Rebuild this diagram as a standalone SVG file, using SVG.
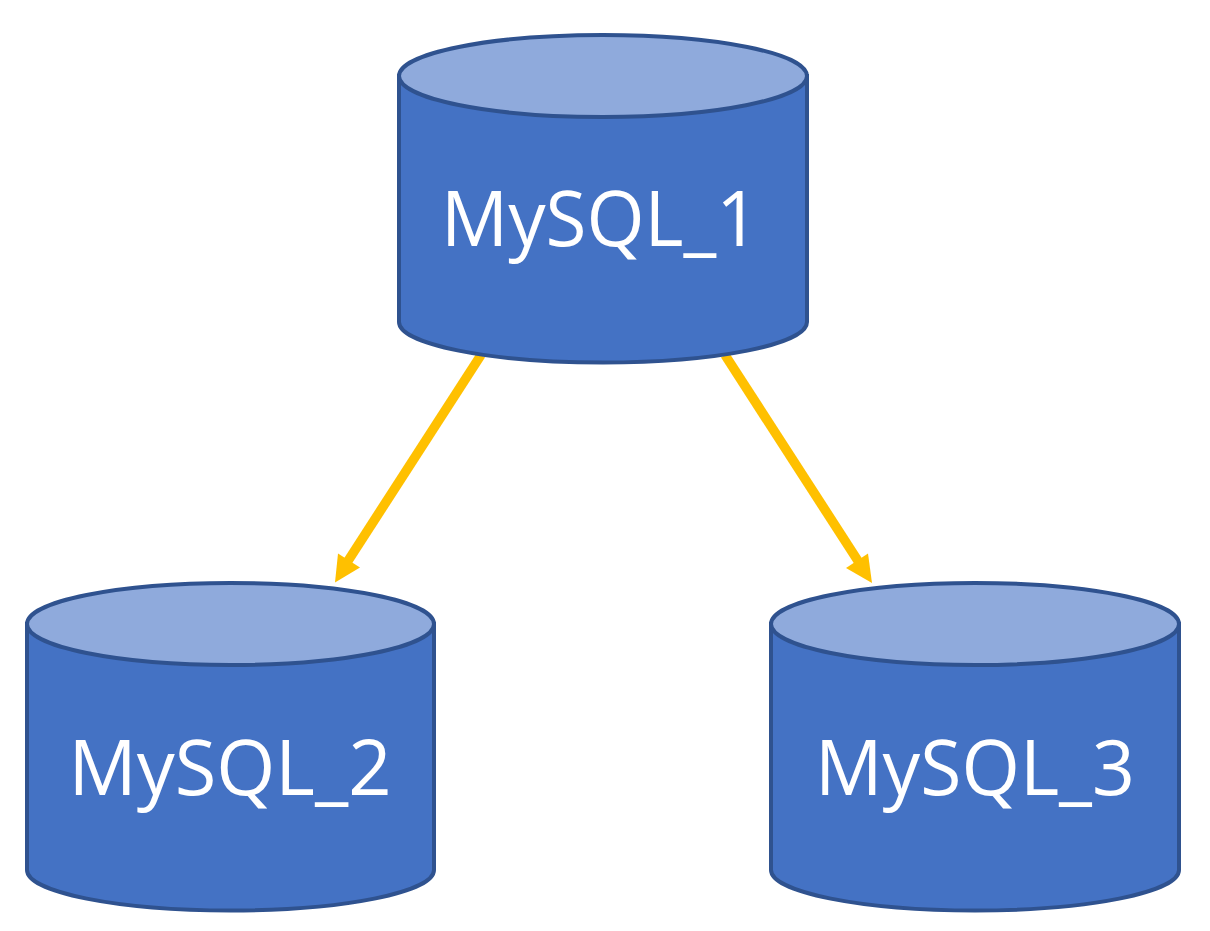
<svg xmlns="http://www.w3.org/2000/svg" width="1210" height="931" viewBox="0 0 1210 931">
<defs>
<style>
.body{fill:#4472c4;stroke:#2f528f;stroke-width:4}
.top{fill:#8faadc;stroke:#2f528f;stroke-width:4}
.lbl{font-family:"Open Sans","Noto Sans",sans-serif;font-size:77px;fill:#fff;text-anchor:middle}
.conn{stroke:#ffc000;stroke-width:9.5;fill:none}
.head{fill:#ffc000}
</style>
</defs>
<rect width="1210" height="931" fill="#fff"/>
<g id="connectors">
<line class="conn" x1="481" y1="355" x2="346" y2="564"/>
<polygon class="head" points="335,582.5 338,553.5 360,567.5"/>
<line class="conn" x1="725" y1="355" x2="860" y2="564"/>
<polygon class="head" points="872,583 846,568 868,553.5"/>
</g>
<g id="mysql1">
<path class="body" d="M399 76V322A204 40.500 0 0 0 807 322V76Z"/>
<ellipse class="top" cx="603" cy="76" rx="204" ry="41"/>
<text class="lbl" x="600" y="246" textLength="318" lengthAdjust="spacingAndGlyphs">MySQL_1</text>
</g>
<g id="mysql2">
<path class="body" d="M27 624V870A203.500 40.500 0 0 0 434 870V624Z"/>
<ellipse class="top" cx="230.500" cy="624" rx="203.500" ry="41"/>
<text class="lbl" x="230" y="795" textLength="323" lengthAdjust="spacingAndGlyphs">MySQL_2</text>
</g>
<g id="mysql3">
<path class="body" d="M771 624V870A204 40.500 0 0 0 1179 870V624Z"/>
<ellipse class="top" cx="975" cy="624" rx="204" ry="41"/>
<text class="lbl" x="975" y="795" textLength="320" lengthAdjust="spacingAndGlyphs">MySQL_3</text>
</g>
</svg>
